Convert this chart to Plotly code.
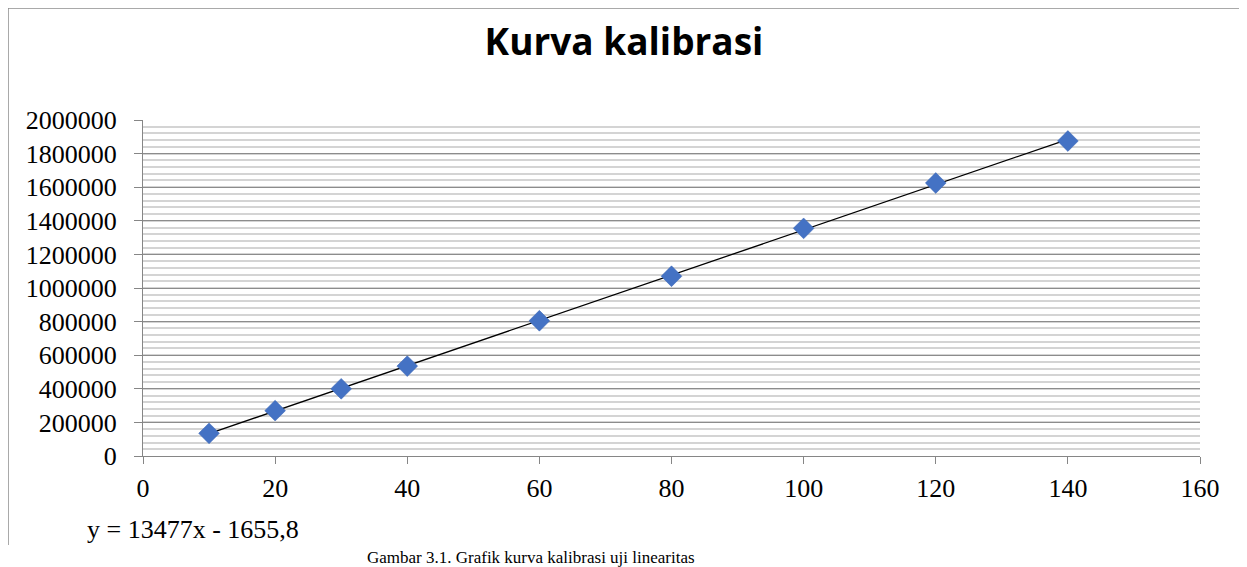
import plotly.graph_objects as go
import numpy as np

# Data
konsentrasi = [10, 20, 30, 40, 60, 80, 100, 120, 140]
luas_area = [135000, 270000, 400000, 535000, 805000, 1070000, 1355000, 1625000, 1875000]
slope = 13477
intercept = -1655.8
title_text = "Kurva kalibrasi"
equation_text = "y = 13477x - 1655,8"
caption_text = "Gambar 3.1. Grafik kurva kalibrasi uji linearitas"

OFF = 8  # page body margin
W, H = 1247 - OFF, 567 - OFF
L, T = 143 - OFF, 120 - OFF
pw, ph = 1057, 336
R, B = W - L - pw, H - T - ph

def px_x(px):
    return (px - OFF - L) / pw

def px_y(py):
    return (T + ph - (py - OFF)) / ph

x_fit = np.array([konsentrasi[0], konsentrasi[-1]])
y_fit = slope * x_fit + intercept

fig = go.Figure()
fig.add_trace(go.Scatter(
    x=x_fit, y=y_fit, mode="lines",
    line=dict(color="black", width=1.3), showlegend=False, hoverinfo="skip"))
fig.add_trace(go.Scatter(
    x=konsentrasi, y=luas_area, mode="markers",
    marker=dict(symbol="diamond", size=16, color="#4472C4",
                line=dict(color="#3C67B5", width=0.5)),
    showlegend=False))

serif = "Liberation Serif, Times New Roman, serif"

fig.update_layout(
    width=W, height=H,
    margin=dict(l=L, r=R, t=T, b=B),
    paper_bgcolor="white", plot_bgcolor="white",
    title=dict(text="<b>" + title_text + "</b>", x=(624 - OFF) / W, xanchor="center",
               y=1 - (42 - OFF) / H, yanchor="middle",
               font=dict(family="Open Sans, Liberation Sans, sans-serif", size=37, color="black")),
    xaxis=dict(range=[0, 160], tickvals=list(range(0, 161, 20)),
               showgrid=False, zeroline=False,
               showline=True, linecolor="#868686", linewidth=1,
               ticks="outside", ticklen=7, tickcolor="#868686",
               ticklabelstandoff=2,
               tickfont=dict(family=serif, size=26, color="black")),
    yaxis=dict(range=[0, 2000000], tickvals=list(range(0, 2000001, 200000)),
               tickformat="d",
               showgrid=True, gridcolor="#8c8c8c", gridwidth=1,
               minor=dict(dtick=40000, showgrid=True, gridcolor="#d4d4d4", gridwidth=2),
               zeroline=False,
               showline=True, linecolor="#868686", linewidth=1,
               ticks="outside", ticklen=8, tickcolor="#868686",
               ticklabelstandoff=12,
               tickfont=dict(family=serif, size=26, color="black")),
)

# chart border (top and left visible)
fig.add_shape(type="line", xref="paper", yref="paper",
              x0=px_x(8), x1=px_x(1260), y0=px_y(8), y1=px_y(8),
              line=dict(color="#8c8c8c", width=1.5))
fig.add_shape(type="line", xref="paper", yref="paper",
              x0=px_x(8), x1=px_x(8), y0=px_y(8), y1=px_y(545),
              line=dict(color="#8c8c8c", width=1.5))

fig.add_annotation(text=equation_text, xref="paper", yref="paper",
                   x=px_x(85), y=px_y(529), xanchor="left", yanchor="middle",
                   showarrow=False, font=dict(family=serif, size=26, color="black"))
fig.add_annotation(text=caption_text, xref="paper", yref="paper",
                   x=px_x(365), y=px_y(546), xanchor="left", yanchor="top",
                   showarrow=False, font=dict(family=serif, size=17, color="black"))

fig.write_html("out.html")
